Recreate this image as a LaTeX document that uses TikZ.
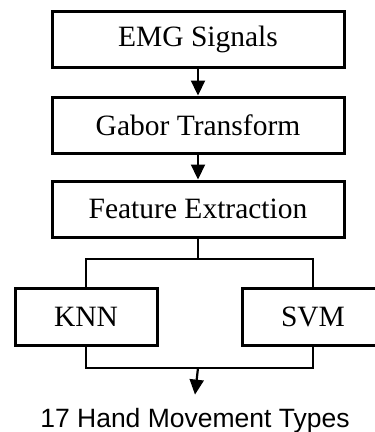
\documentclass[tikz,border=0pt]{standalone}
\usepackage{fontspec}
\setmainfont{Liberation Serif}
\newfontfamily\labelfont{Liberation Sans}
\usetikzlibrary{arrows.meta}

\begin{document}
\begin{tikzpicture}[
    x=1pt, y=-1pt,
    proc/.style={draw=black, line width=3pt, fill=white,
                 minimum width=292pt, minimum height=56pt, inner sep=0pt,
                 font=\fontsize{29.5}{31}\selectfont},
    clf/.style={draw=black, line width=3pt, fill=white,
                minimum width=142pt, minimum height=57pt, inner sep=0pt,
                font=\fontsize{29.5}{31}\selectfont},
    arr/.style={-{Triangle[length=15pt, width=14pt]}, line width=2.2pt},
    link/.style={line width=2.2pt},
  ]
    \useasboundingbox (0,0) rectangle (375,432);
    \clip (0,0) rectangle (375,432);

    % Hauptkette
    \node[proc] (emg)   at (198,39)  {EMG Signals};
    \node[proc] (gabor) at (198,125) {Gabor Transform};
    \node[proc] (feat)  at (198,209) {Feature Extraction};

    \draw[arr] (emg) -- (gabor);
    \draw[arr] (gabor) -- (feat);

    % Klassifikatoren
    \node[clf] (knn) at (86,317)  {KNN};
    \node[clf] (svm) at (313,317) {SVM};

    \coordinate (split) at (198,259);
    \coordinate (join)  at (198,368);

    \draw[link] (feat) -- (split);
    \draw[link] (knn.north) |- (split) -| (svm.north);
    \draw[link] (knn.south) |- (join) -| (svm.south);

    % Ausgabe
    \node[anchor=base, inner xsep=0pt, inner ysep=13pt,
          font=\labelfont\fontsize{26.5}{28}\selectfont] (out) at (195,427)
          {17 Hand Movement Types};
    \draw[arr] (join) -- (out.north);
  \end{tikzpicture}
\end{document}
